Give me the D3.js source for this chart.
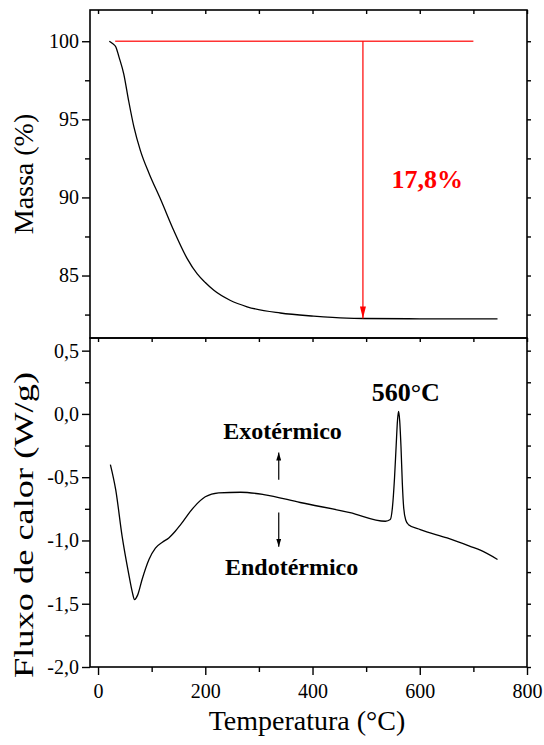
<!DOCTYPE html>
<html>
<head>
<meta charset="utf-8">
<script src="https://cdn.jsdelivr.net/npm/d3@7"></script>
<style>
body { margin: 0; background: #fff; }
svg { font-family: "Liberation Serif", "Times New Roman", serif; }
</style>
</head>
<body>
<svg width="544" height="745"></svg>
<script>
// TGA curve (mass %)
var tgaTemp = [21, 27, 33, 39, 48, 57, 67, 79, 95, 117, 141, 166, 185, 200, 216, 247, 278, 340, 402, 464, 495, 600, 745]
var tgaMass = [100, 99.85, 99.65, 99.0, 97.9, 96.2, 94.5, 93.0, 91.55, 89.85, 87.9, 86.1, 85.1, 84.55, 84.05, 83.4, 83.0, 82.6, 82.40, 82.27, 82.25, 82.23, 82.22]

// DSC curve (heat flow W/g)
var dscTemp = [23, 33, 45, 57, 64, 68, 74, 82, 95, 107, 120, 132, 144, 154, 178, 200, 225, 266, 309, 377, 470, 536, 545, 549, 553, 556, 558.5, 560.5, 562.5, 565, 567.5, 570, 574, 579, 601, 651, 694, 713, 745]
var dscFlux = [-0.40, -0.60, -0.97, -1.26, -1.41, -1.467, -1.43, -1.31, -1.15, -1.06, -1.014, -0.98, -0.927, -0.875, -0.74, -0.655, -0.624, -0.619, -0.637, -0.70, -0.78, -0.848, -0.835, -0.74, -0.50, -0.25, -0.05, 0.02, -0.05, -0.26, -0.55, -0.74, -0.84, -0.875, -0.914, -0.98, -1.046, -1.077, -1.15]

var xTicks = [0, 200, 400, 600, 800]
var xMinor = [100, 300, 500, 700]
var massTicks = [85, 90, 95, 100]
var massMinor = [82.5, 87.5, 92.5, 97.5]
var fluxTicks = [-2.0, -1.5, -1.0, -0.5, 0.0, 0.5]
var fluxMinor = [-1.75, -1.25, -0.75, -0.25, 0.25]

var lossLabel = "17,8%", lossFrom = 100, lossTo = 82.25, lossAt = 494
var peakLabel = "560°C"

var left = 90, right = 527, top1 = 10, mid = 338, bottom = 667

var svg = d3.select("svg")
var x = d3.scaleLinear().domain([-15, 800]).range([left, right])
var yMass = d3.scaleLinear().domain([81, 102]).range([mid, top1])
var yFlux = d3.scaleLinear().domain([-2.0, 0.6]).range([bottom, mid])

var fmt = d3.formatLocale({decimal: ",", thousands: ".", grouping: [3], currency: ["", ""], minus: "-"}).format(".1f")

var defs = svg.append("defs")
defs.append("marker").attr("id", "redhead")
    .attr("markerUnits", "userSpaceOnUse")
    .attr("markerWidth", 12).attr("markerHeight", 6)
    .attr("refX", 12).attr("refY", 3).attr("orient", "auto")
    .append("path").attr("d", "M0,0L12,3L0,6Z").attr("fill", "red")
defs.append("marker").attr("id", "blackhead")
    .attr("markerUnits", "userSpaceOnUse")
    .attr("markerWidth", 8).attr("markerHeight", 5)
    .attr("refX", 8).attr("refY", 2.5).attr("orient", "auto")
    .append("path").attr("d", "M0,0L8,2.5L0,5Z").attr("fill", "#000")

function styleAxis(g) {
    g.select(".domain").remove()
    g.attr("font-family", null).attr("font-size", null)
    g.selectAll("line").attr("stroke", "#000").attr("stroke-width", 1.4)
    g.selectAll("text").style("font-family", "'Liberation Serif', 'Times New Roman', serif")
        .style("font-size", "20px").attr("fill", "#000")
}

// --- top panel axes ---
svg.append("g").attr("transform", "translate(" + left + ",0)")
    .call(d3.axisLeft(yMass).tickValues(massTicks).tickSize(8).tickPadding(3).tickFormat(d3.format("d")))
    .call(styleAxis)
svg.append("g").attr("transform", "translate(" + left + ",0)")
    .call(d3.axisLeft(yMass).tickValues(massMinor).tickSize(5).tickFormat(""))
    .call(styleAxis)
svg.append("g").attr("transform", "translate(" + right + ",0)")
    .call(d3.axisRight(yMass).tickValues(massTicks.concat(massMinor)).tickSize(4).tickFormat(""))
    .call(styleAxis)
svg.append("g").attr("transform", "translate(0," + top1 + ")")
    .call(d3.axisBottom(x).tickValues(xTicks.concat(xMinor)).tickSize(4).tickFormat(""))
    .call(styleAxis)
svg.append("g").attr("transform", "translate(0," + mid + ")")
    .call(d3.axisBottom(x).tickValues(xTicks.concat(xMinor)).tickSize(4).tickFormat(""))
    .call(styleAxis)

// --- bottom panel axes ---
svg.append("g").attr("transform", "translate(" + left + ",0)")
    .call(d3.axisLeft(yFlux).tickValues(fluxTicks).tickSize(8).tickPadding(3).tickFormat(fmt))
    .call(styleAxis)
svg.append("g").attr("transform", "translate(" + left + ",0)")
    .call(d3.axisLeft(yFlux).tickValues(fluxMinor).tickSize(5).tickFormat(""))
    .call(styleAxis)
svg.append("g").attr("transform", "translate(" + right + ",0)")
    .call(d3.axisRight(yFlux).tickValues(fluxTicks.concat(fluxMinor)).tickSize(4).tickFormat(""))
    .call(styleAxis)
svg.append("g").attr("transform", "translate(0," + bottom + ")")
    .call(d3.axisBottom(x).tickValues(xTicks).tickSize(8).tickPadding(9).tickFormat(d3.format("d")))
    .call(styleAxis)
svg.append("g").attr("transform", "translate(0," + bottom + ")")
    .call(d3.axisBottom(x).tickValues(xMinor).tickSize(5).tickFormat(""))
    .call(styleAxis)

// frames
svg.append("rect").attr("x", left).attr("y", top1).attr("width", right - left).attr("height", mid - top1)
    .attr("fill", "none").attr("stroke", "#000").attr("stroke-width", 1.6)
svg.append("rect").attr("x", left).attr("y", mid).attr("width", right - left).attr("height", bottom - mid)
    .attr("fill", "none").attr("stroke", "#000").attr("stroke-width", 1.6)

// curves
var tga = tgaTemp.map(function(t, i) { return [t, tgaMass[i]] })
var dsc = dscTemp.map(function(t, i) { return [t, dscFlux[i]] })

svg.append("path").datum(tga)
    .attr("d", d3.line().x(function(d) { return x(d[0]) }).y(function(d) { return yMass(d[1]) }).curve(d3.curveMonotoneX))
    .attr("fill", "none").attr("stroke", "#000").attr("stroke-width", 1.3)
svg.append("path").datum(dsc)
    .attr("d", d3.line().x(function(d) { return x(d[0]) }).y(function(d) { return yFlux(d[1]) }).curve(d3.curveMonotoneX))
    .attr("fill", "none").attr("stroke", "#000").attr("stroke-width", 1.3)

// mass loss annotation
svg.append("line").attr("x1", x(32)).attr("x2", x(700)).attr("y1", yMass(lossFrom)).attr("y2", yMass(lossFrom))
    .attr("stroke", "#f33").attr("stroke-width", 1.3)
svg.append("line").attr("x1", x(lossAt)).attr("x2", x(lossAt)).attr("y1", yMass(lossFrom)).attr("y2", yMass(lossTo))
    .attr("stroke", "red").attr("stroke-width", 1.2).attr("marker-end", "url(#redhead)")
svg.append("text").attr("x", x(614)).attr("y", yMass(90.6)).attr("text-anchor", "middle")
    .attr("font-size", 26).attr("font-weight", "bold").attr("fill", "red").text(lossLabel)

// DSC annotations
svg.append("text").attr("x", x(574)).attr("y", yFlux(0.1)).attr("text-anchor", "middle")
    .attr("font-size", 26).attr("font-weight", "bold").text(peakLabel)
svg.append("text").attr("x", x(344)).attr("y", yFlux(-0.2)).attr("text-anchor", "middle")
    .attr("font-size", 24).attr("font-weight", "bold").text("Exotérmico")
svg.append("text").attr("x", x(361)).attr("y", yFlux(-1.27)).attr("text-anchor", "middle")
    .attr("font-size", 24).attr("font-weight", "bold").text("Endotérmico")
svg.append("line").attr("x1", x(337)).attr("x2", x(337)).attr("y1", yFlux(-0.52)).attr("y2", yFlux(-0.305))
    .attr("stroke", "#000").attr("stroke-width", 1.2).attr("marker-end", "url(#blackhead)")
svg.append("line").attr("x1", x(337)).attr("x2", x(337)).attr("y1", yFlux(-0.78)).attr("y2", yFlux(-1.05))
    .attr("stroke", "#000").attr("stroke-width", 1.2).attr("marker-end", "url(#blackhead)")

// axis titles
svg.append("text").attr("transform", "translate(33,174) rotate(-90)").attr("text-anchor", "middle")
    .attr("font-size", 28).text("Massa (%)")
svg.append("text").attr("transform", "translate(33,525) rotate(-90)").attr("text-anchor", "middle")
    .attr("font-size", 28).attr("textLength", 306).attr("lengthAdjust", "spacingAndGlyphs")
    .text("Fluxo de calor (W/g)")
svg.append("text").attr("x", 307).attr("y", 730).attr("text-anchor", "middle")
    .attr("font-size", 28).text("Temperatura (°C)")
</script>
</body>
</html>
